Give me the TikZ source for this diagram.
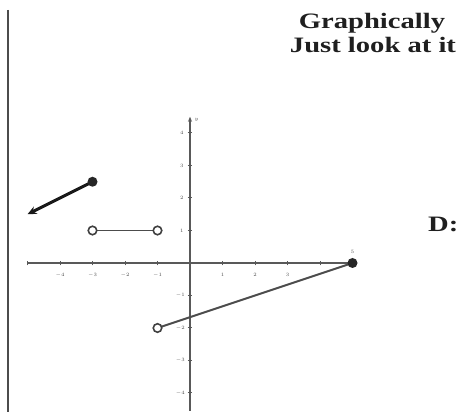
\documentclass[tikz,border=0pt]{standalone}
\usepackage{fontspec}
\setmainfont{Liberation Serif}
\usetikzlibrary{arrows.meta}
\begin{document}
\begin{tikzpicture}[x=1pt,y=-1pt,
  axis/.style={draw=black!65, line width=2pt},
  tickmark/.style={draw=black!65, line width=1pt},
  ticklbl/.style={font=\fontsize{5}{6}\selectfont, text=black!70, inner sep=0.5pt},
  title/.style={font=\fontsize{22}{26}\selectfont\bfseries, text=black!88, inner sep=0pt},
  darkseg/.style={draw=black!90, line width=3pt},
  seg/.style={draw=black!70, line width=1.9pt},
  dot/.style={circle, fill=black!85, inner sep=0pt, minimum size=10pt},
  odot/.style={circle, draw=black!75, line width=1.6pt, fill=white, inner sep=0pt, minimum size=8.5pt},
  frame/.style={draw=black!70, line width=2pt}]
\useasboundingbox (0,0) rectangle (459,412);
% left rule
\coordinate (L1) at (8,10);
\coordinate (L2) at (8,412);
\draw[frame] (L1) -- (L2);
% titles
\node[title, anchor=base] (t1) at (372,29) {\scalebox{1.3}[1]{Graphically}};
\node[title, anchor=base] (t2) at (373,53) {\scalebox{1.3}[1]{Just look at it}};
\node[title, anchor=base east] (t3) at (458.5,232) {\scalebox{1.3}[1]{D:}};
% graph
\begin{scope}[shift={(190,263)}, x=32.5pt, y=32.5pt]
  \coordinate (xl) at (-5,0);
  \coordinate (xr) at (5,0);
  \coordinate (yb) at (0,-4.55);
  \coordinate (yt) at (0,4.5);
  \draw[axis] (xl) -- (xr);
  \draw[axis, -{Stealth[length=5pt,width=4pt]}] (yb) -- (yt);
  \foreach \i in {-5,...,4} { \draw[tickmark] (\i,-0.07) -- (\i,0.07); }
  \foreach \j in {-4,...,-1,1,2,3,4} { \draw[tickmark] (-0.07,\j) -- (0.07,\j); }
  \foreach \i in {-4,...,-1} { \node[ticklbl] (xlabm\i) at (\i,-0.37) {$\i$}; }
  \foreach \i in {1,2,3} { \node[ticklbl] (xlab\i) at (\i,-0.37) {$\i$}; }
  \node[ticklbl] (xlab5) at (5,0.35) {$5$};
  \foreach \j in {1,2,3,4} { \node[ticklbl] (ylab\j) at (-0.25,\j) {$\j$}; }
  \foreach \j in {-1,-2,-3,-4} { \node[ticklbl] (ylabm\j) at (-0.3,\j) {$\j$}; }
  \node[ticklbl] (ylbl) at (0.2,4.4) {$y$};
  % pieces
  \coordinate (A) at (-3,2.5);
  \coordinate (B) at (-5,1.5);
  \coordinate (P1) at (-3,1);
  \coordinate (P2) at (-1,1);
  \coordinate (Q1) at (-1,-2);
  \coordinate (Q2) at (5,0);
  \draw[darkseg, -{Stealth[length=9pt,width=8pt]}] (A) -- (B);
  \draw[seg] (P1) -- (P2);
  \draw[seg] (Q1) -- (Q2);
  \node[dot] (dA) at (A) {};
  \node[dot] (dQ) at (Q2) {};
  \node[odot] (oP1) at (P1) {};
  \node[odot] (oP2) at (P2) {};
  \node[odot] (oQ) at (Q1) {};
\end{scope}
\end{tikzpicture}
\end{document}
